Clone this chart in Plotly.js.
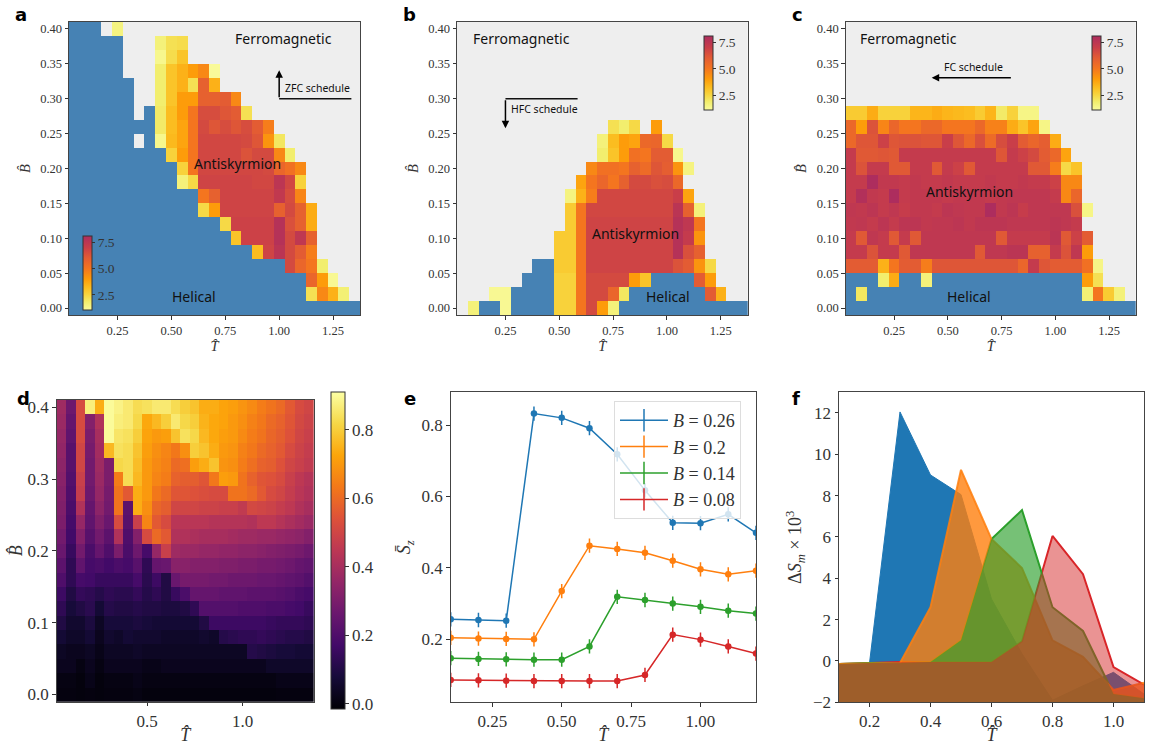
<!DOCTYPE html>
<html><head><meta charset="utf-8">
<script src="https://cdn.plot.ly/plotly-3.0.1.min.js"></script>
<style>html,body{margin:0;padding:0;background:#fff}#c{width:1153px;height:745px}</style>
</head><body><div id="c"></div>
<script>
const T=[.05,.10,.15,.20,.25,.30,.35,.40,.45,.50,.55,.60,.65,.70,.75,.80,.85,.90,.95,1.00,1.05,1.10,1.15,1.20,1.25,1.30,1.35];
const B=[.40,.38,.36,.34,.32,.30,.28,.26,.24,.22,.20,.18,.16,.14,.12,.10,.08,.06,.04,.02,0];
// 0 = ferromagnetic, -1 = helical, positive = antiskyrmion density
const zfc=[
[-1,-1,-1,0,1.5,0,0,0,0,0,0,0,0,0,0,0,0,0,0,0,0,0,0,0,0,0,0],
[-1,-1,-1,-1,-1,0,0,0,1.6,2.2,2.3,0,0,0,0,0,0,0,0,0,0,0,0,0,0,0,0],
[-1,-1,-1,-1,-1,0,0,0,1.3,2.3,3.0,0,0,0,0,0,0,0,0,0,0,0,0,0,0,0,0],
[-1,-1,-1,-1,-1,0,0,0,1.8,3.0,3.5,4.0,4.5,1.1,0,0,0,0,0,0,0,0,0,0,0,0,0],
[-1,-1,-1,-1,-1,-1,0,0,1.8,3.0,3.5,2.2,5.8,3.5,0,0,0,0,0,0,0,0,0,0,0,0,0],
[-1,-1,-1,-1,-1,-1,0,0,1.8,3.0,4.0,4.0,5.8,5.8,6.0,4.5,0,0,0,0,0,0,0,0,0,0,0],
[-1,-1,-1,-1,-1,-1,0,-1,1.9,3.2,4.0,5.0,6.5,6.5,6.2,6.0,2.2,0,0,0,0,0,0,0,0,0,0],
[-1,-1,-1,-1,-1,-1,-1,-1,1.9,3.2,3.8,5.0,6.6,6.2,6.5,6.2,6.5,6.0,4.8,0,0,0,0,0,0,0,0],
[-1,-1,-1,-1,-1,-1,0,-1,1.3,3.3,3.8,5.0,6.7,6.7,6.7,6.7,6.6,6.2,4.2,2.0,0,0,0,0,0,0,0],
[-1,-1,-1,-1,-1,-1,-1,-1,-1,2.6,4.0,5.0,6.7,6.7,6.7,6.7,6.3,6.6,6.6,4.5,1.8,0,0,0,0,0,0],
[-1,-1,-1,-1,-1,-1,-1,-1,-1,-1,2.6,5.0,6.7,6.7,6.7,6.7,6.7,6.7,6.6,5.6,5.2,4.5,0,0,0,0,0],
[-1,-1,-1,-1,-1,-1,-1,-1,-1,-1,1.6,2.4,6.8,6.8,6.8,6.8,6.8,6.7,6.7,7.5,6.7,2.6,0,0,0,0,0],
[-1,-1,-1,-1,-1,-1,-1,-1,-1,-1,-1,-1,5.0,5.8,6.8,6.8,6.8,6.8,6.8,7.3,6.5,4.6,0,0,0,0,0],
[-1,-1,-1,-1,-1,-1,-1,-1,-1,-1,-1,-1,2.4,4.0,6.8,6.8,6.8,6.8,6.8,5.8,6.6,5.8,3.6,0,0,0,0],
[-1,-1,-1,-1,-1,-1,-1,-1,-1,-1,-1,-1,-1,-1,2.4,6.9,6.9,6.9,6.9,7.8,6.4,5.8,3.6,0,0,0,0],
[-1,-1,-1,-1,-1,-1,-1,-1,-1,-1,-1,-1,-1,-1,-1,3.0,6.9,6.9,6.9,7.8,6.6,7.4,5.8,0,0,0,0],
[-1,-1,-1,-1,-1,-1,-1,-1,-1,-1,-1,-1,-1,-1,-1,-1,-1,3.2,6.8,7.6,6.6,6.0,4.8,0,0,0,0],
[-1,-1,-1,-1,-1,-1,-1,-1,-1,-1,-1,-1,-1,-1,-1,-1,-1,-1,-1,-1,6.6,5.6,5.0,1.8,0,0,0],
[-1,-1,-1,-1,-1,-1,-1,-1,-1,-1,-1,-1,-1,-1,-1,-1,-1,-1,-1,-1,-1,-1,5.6,4.0,1.2,0,0],
[-1,-1,-1,-1,-1,-1,-1,-1,-1,-1,-1,-1,-1,-1,-1,-1,-1,-1,-1,-1,-1,-1,2.2,4.5,3.5,1.7,0],
[-1,-1,-1,-1,-1,-1,-1,-1,-1,-1,-1,-1,-1,-1,-1,-1,-1,-1,-1,-1,-1,-1,-1,-1,-1,-1,-1]];
const hfc=[
[0,0,0,0,0,0,0,0,0,0,0,0,0,0,0,0,0,0,0,0,0,0,0,0,0,0,0],
[0,0,0,0,0,0,0,0,0,0,0,0,0,0,0,0,0,0,0,0,0,0,0,0,0,0,0],
[0,0,0,0,0,0,0,0,0,0,0,0,0,0,0,0,0,0,0,0,0,0,0,0,0,0,0],
[0,0,0,0,0,0,0,0,0,0,0,0,0,0,0,0,0,0,0,0,0,0,0,0,0,0,0],
[0,0,0,0,0,0,0,0,0,0,0,0,0,0,0,0,0,0,0,0,0,0,0,0,0,0,0],
[0,0,0,0,0,0,0,0,0,0,0,0,0,0,0,0,0,0,0,0,0,0,0,0,0,0,0],
[0,0,0,0,0,0,0,0,0,0,0,0,0,0,0,0,0,0,0,0,0,0,0,0,0,0,0],
[0,0,0,0,0,0,0,0,0,0,0,0,0,0,2.2,1.8,2.4,0,4.0,0,0,0,0,0,0,0,0],
[0,0,0,0,0,0,0,0,0,0,0,0,0,1.6,3.2,4.0,3.8,5.5,5.6,2.4,0,0,0,0,0,0,0],
[0,0,0,0,0,0,0,0,0,0,0,0,0,1.8,3.0,4.0,5.2,5.0,6.0,6.0,1.3,0,0,0,0,0,0],
[0,0,0,0,0,0,0,0,0,0,0,0,4.5,5.2,5.2,5.0,5.8,5.4,6.2,5.9,4.2,1.5,0,0,0,0,0],
[0,0,0,0,0,0,0,0,0,0,0,3.8,5.0,5.6,5.0,5.8,6.6,6.6,6.4,6.5,5.5,0,0,0,0,0,0],
[0,0,0,0,0,0,0,0,0,0,1.5,3.5,4.8,6.7,6.7,6.7,6.7,6.7,6.7,6.7,7.0,3.8,0,0,0,0,0],
[0,0,0,0,0,0,0,0,0,0,2.8,5.0,6.7,6.7,6.7,6.7,6.7,6.7,6.7,6.7,7.6,5.8,1.6,0,0,0,0],
[0,0,0,0,0,0,0,0,0,0,2.8,5.0,6.8,6.8,6.8,6.8,6.8,6.8,6.8,6.8,7.8,7.4,5.0,0,0,0,0],
[0,0,0,0,0,0,0,0,0,2.8,2.8,5.0,6.8,6.8,6.8,6.8,6.8,6.8,6.8,6.8,7.8,7.2,4.2,0,0,0,0],
[0,0,0,0,0,0,0,0,0,2.8,2.8,5.0,6.8,6.8,6.8,6.8,6.8,6.8,6.8,6.8,7.8,6.4,5.8,0,0,0,0],
[0,0,0,0,0,0,0,-1,-1,2.8,2.8,5.0,6.8,6.8,6.8,6.8,6.8,6.8,6.8,6.8,6.3,6.0,4.2,2.4,0,0,0],
[0,0,0,0,0,0,-1,-1,-1,2.6,2.6,5.0,6.6,6.6,6.6,6.6,4.0,3.0,-1,-1,-1,-1,6.0,4.0,0,0,0],
[0,0,0,1.2,1.2,-1,-1,-1,-1,2.6,2.6,5.0,6.6,6.6,5.6,2.0,-1,-1,-1,-1,-1,-1,-1,6.0,3.5,0,0],
[0,1.6,-1,-1,1.2,-1,-1,-1,-1,2.6,2.6,5.0,6.6,4.0,1.6,-1,-1,-1,-1,-1,-1,-1,-1,-1,-1,-1,-1]];
const fc=[
[0,0,0,0,0,0,0,0,0,0,0,0,0,0,0,0,0,0,0,0,0,0,0,0,0,0,0],
[0,0,0,0,0,0,0,0,0,0,0,0,0,0,0,0,0,0,0,0,0,0,0,0,0,0,0],
[0,0,0,0,0,0,0,0,0,0,0,0,0,0,0,0,0,0,0,0,0,0,0,0,0,0,0],
[0,0,0,0,0,0,0,0,0,0,0,0,0,0,0,0,0,0,0,0,0,0,0,0,0,0,0],
[0,0,0,0,0,0,0,0,0,0,0,0,0,0,0,0,0,0,0,0,0,0,0,0,0,0,0],
[0,0,0,0,0,0,0,0,0,0,0,0,0,0,0,0,0,0,0,0,0,0,0,0,0,0,0],
[2.8,2.8,3.6,2.6,2.6,2.6,3.4,3.4,3.6,3.4,3.3,3.2,2.8,3.4,1.9,2.6,1.4,1.4,0,0,0,0,0,0,0,0,0],
[5.5,4.0,6.3,4.6,5.6,5.0,5.0,5.5,5.5,5.0,5.0,5.0,5.5,4.7,4.7,3.6,3.0,3.8,1.4,0,0,0,0,0,0,0,0],
[5.5,6.2,6.2,6.9,6.2,6.3,6.3,6.2,6.2,7.0,6.2,5.5,6.4,5.4,6.5,7.0,6.0,5.6,5.9,3.6,0,0,0,0,0,0,0],
[7.2,6.1,6.1,6.2,6.1,7.2,7.2,7.2,7.2,7.2,7.2,7.2,7.2,7.2,6.2,7.2,6.9,6.6,6.0,5.5,3.8,0,0,0,0,0,0],
[7.2,6.3,7.2,7.2,6.1,6.1,7.2,7.2,6.1,7.2,6.9,6.1,7.2,7.2,7.2,7.2,7.2,6.1,6.1,4.8,2.4,3.0,0,0,0,0,0],
[7.2,7.2,8.1,7.3,7.3,7.2,7.3,7.2,7.2,7.3,7.2,7.2,7.2,7.3,7.2,7.2,7.3,7.2,7.2,6.9,4.5,4.5,0,0,0,0,0],
[7.2,7.9,7.3,7.2,8.1,7.2,7.3,7.3,7.3,7.2,7.3,7.3,7.3,7.2,7.3,7.4,7.4,7.4,7.4,7.2,4.5,5.6,0,0,0,0,0],
[7.4,7.3,7.5,7.2,7.4,7.1,7.3,7.3,7.2,7.5,7.4,7.3,7.3,8.2,7.3,7.5,7.1,7.4,7.4,7.4,7.4,6.4,1.4,0,0,0,0],
[7.3,7.4,7.2,7.5,7.2,7.5,7.5,7.3,7.4,7.4,7.5,7.3,7.5,7.5,7.5,7.4,7.4,7.4,7.4,7.5,7.4,7.2,0,0,0,0,0],
[7.2,6.1,7.4,7.2,6.1,7.2,6.1,7.4,7.4,7.4,7.4,7.4,7.4,7.4,6.1,7.2,7.2,7.2,7.2,7.6,6.1,6.9,6.0,0,0,0,0],
[7.2,7.2,6.3,7.2,7.2,6.1,7.4,7.4,7.4,7.4,7.4,7.4,6.1,7.4,7.4,7.6,7.6,5.8,5.8,7.2,6.3,7.4,4.0,0,0,0,0],
[6,6,6,3.5,5,6,6,4.8,6.2,6.2,6.2,6.2,6.2,6.2,6.2,6.2,5.6,7.2,6.2,6,6,6,5.2,1.4,0,0,0],
[-1,-1,-1,1.8,3.6,-1,-1,1.6,-1,-1,-1,-1,-1,-1,-1,-1,-1,-1,-1,-1,-1,-1,4.0,2.2,0,0,0],
[-1,2.0,-1,-1,-1,-1,-1,-1,-1,-1,-1,-1,-1,-1,-1,-1,-1,-1,-1,-1,-1,-1,1.7,5.0,2.8,1.6,0],
[-1,-1,-1,-1,-1,-1,-1,-1,-1,-1,-1,-1,-1,-1,-1,-1,-1,-1,-1,-1,-1,-1,-1,-1,-1,-1,-1]];
const sz=[
[.38,.27,.52,.87,.74,.90,.88,.86,.83,.84,.86,.86,.83,.80,.78,.74,.74,.72,.71,.69,.67,.64,.62,.60,.56,.52,.50],
[.37,.25,.52,.32,.42,.90,.87,.86,.82,.73,.76,.80,.86,.82,.80,.75,.73,.72,.70,.68,.65,.63,.60,.58,.55,.51,.49],
[.36,.24,.52,.30,.40,.90,.85,.84,.80,.72,.70,.71,.78,.84,.82,.76,.73,.71,.70,.67,.64,.62,.59,.57,.54,.50,.48],
[.35,.22,.50,.29,.39,.76,.84,.83,.78,.71,.68,.66,.63,.68,.80,.78,.74,.70,.69,.65,.63,.60,.58,.56,.52,.49,.47],
[.34,.22,.50,.28,.38,.30,.82,.83,.77,.70,.67,.65,.60,.61,.71,.74,.78,.69,.68,.64,.61,.58,.57,.54,.50,.48,.46],
[.33,.21,.48,.28,.37,.30,.64,.83,.76,.70,.66,.64,.58,.57,.57,.55,.63,.71,.70,.62,.58,.55,.54,.52,.48,.45,.43],
[.32,.20,.47,.27,.36,.29,.62,.56,.74,.70,.63,.60,.55,.55,.54,.53,.52,.52,.62,.62,.60,.56,.52,.50,.47,.44,.42],
[.31,.19,.42,.25,.34,.28,.62,.23,.74,.68,.59,.57,.50,.50,.50,.49,.49,.48,.48,.46,.51,.50,.49,.47,.45,.42,.40],
[.30,.18,.36,.24,.31,.26,.52,.22,.48,.66,.56,.52,.44,.44,.44,.44,.43,.43,.43,.43,.42,.45,.45,.43,.41,.39,.37],
[.28,.17,.32,.22,.28,.23,.42,.20,.32,.52,.60,.56,.42,.42,.41,.40,.40,.40,.39,.38,.38,.37,.37,.36,.35,.34,.32],
[.26,.15,.28,.19,.25,.20,.30,.19,.27,.18,.36,.48,.38,.37,.37,.36,.36,.35,.35,.34,.34,.33,.32,.31,.30,.29,.27],
[.23,.13,.24,.18,.19,.17,.19,.18,.22,.13,.25,.26,.33,.33,.32,.32,.32,.31,.31,.30,.30,.29,.29,.28,.27,.25,.24],
[.20,.13,.18,.17,.15,.15,.15,.15,.18,.12,.16,.10,.26,.29,.29,.29,.28,.28,.27,.27,.27,.26,.26,.25,.24,.23,.21],
[.16,.10,.14,.13,.11,.13,.12,.12,.14,.11,.13,.10,.15,.19,.25,.25,.25,.24,.24,.24,.23,.23,.23,.22,.21,.19,.18],
[.13,.08,.10,.12,.07,.11,.10,.10,.11,.10,.10,.09,.09,.10,.13,.21,.21,.21,.21,.20,.20,.20,.19,.19,.18,.17,.15],
[.10,.06,.06,.09,.04,.08,.08,.08,.09,.08,.07,.07,.07,.07,.07,.10,.16,.16,.16,.16,.16,.16,.15,.14,.14,.14,.13],
[.07,.05,.05,.07,.03,.06,.05,.07,.06,.06,.06,.05,.05,.05,.05,.06,.05,.11,.12,.13,.13,.14,.13,.12,.11,.11,.10],
[.04,.03,.03,.04,.02,.04,.04,.04,.05,.04,.04,.04,.04,.04,.04,.04,.04,.04,.04,.04,.11,.10,.09,.08,.08,.07,.07],
[.03,.03,.01,.03,.01,.03,.03,.03,.03,.02,.02,.03,.03,.03,.03,.03,.03,.03,.03,.03,.03,.03,.05,.05,.05,.05,.05],
[.01,.01,.00,.02,.00,.01,.01,.01,.02,.01,.01,.01,.01,.01,.01,.01,.01,.01,.01,.01,.01,.01,.01,.02,.02,.02,.02],
[.005,.005,0,.005,0,.005,.005,.005,.01,0,0,0,0,0,0,0,0,0,0,0,0,0,0,.005,.005,.005,.005]];
const eT=[.1,.2,.3,.4,.5,.6,.7,.8,.9,1.0,1.1,1.2];
const s26=[.256,.254,.252,.832,.820,.791,.718,.617,.526,.525,.550,.498];
const s20=[.204,.202,.201,.200,.335,.462,.453,.442,.420,.396,.382,.392];
const s14=[.147,.145,.144,.143,.143,.180,.319,.310,.300,.291,.280,.272];
const s08=[.086,.085,.084,.083,.083,.083,.083,.100,.213,.199,.180,.160];
const fT=[.1,.2,.3,.4,.5,.6,.7,.8,.9,1.0,1.1];
const d1=[-.15,-.1,12.05,9.0,8.05,3.0,.35,-1.9,-1.2,-.55,-1.6];
const d2=[-.15,-.12,-.1,2.6,9.25,5.9,4.5,1.0,.2,-1.4,-1.05];
const d3=[-.15,-.1,-.1,-.05,1.0,5.9,7.3,2.6,1.45,-1.6,-1.8];
const d4=[-.15,-.1,-.05,-.05,-.05,-.05,.95,6.05,4.2,-.3,-1.15];
const floorVal=-2;

const W=1153,H=745;
const serif='"Liberation Serif","DejaVu Serif",serif', sans='"Noto Sans","DejaVu Sans",sans-serif';
const ink='#333333';
const densCS=[[0,'#f9fb9c'],[.106,'#f2ee6e'],[.206,'#f7d53f'],[.305,'#fbbd20'],[.418,'#fd9c0a'],[.56,'#f4751f'],[.702,'#e35c33'],[.844,'#c93e49'],[1,'#ad2d5e']];
const inferno=[[0,'#000004'],[.1,'#160b39'],[.2,'#420a68'],[.3,'#6a176e'],[.4,'#932667'],[.5,'#bc3754'],[.6,'#dd513a'],[.7,'#f37819'],[.8,'#fca50a'],[.9,'#f6d746'],[1,'#fcffa4']];
const phaseCS=[[0,'#4682b4'],[1,'#eeeeee']];
const panels=[
 {m:zfc,xa:'x',ya:'y',cb:{l:83.3,t:236,h:74}},
 {m:hfc,xa:'x2',ya:'y2',cb:{l:704,t:36.3,h:74}},
 {m:fc,xa:'x3',ya:'y3',cb:{l:1092,t:36.3,h:74}}];
const traces=[];
panels.forEach(p=>{
 traces.push({type:'heatmap',x:T,y:B,z:p.m.map(r=>r.map(v=>v<=0?v:null)),xaxis:p.xa,yaxis:p.ya,zmin:-1,zmax:0,colorscale:phaseCS,showscale:false,hoverinfo:'skip'});
 traces.push({type:'heatmap',x:T,y:B,z:p.m.map(r=>r.map(v=>v>0?v:null)),xaxis:p.xa,yaxis:p.ya,zmin:1.05,zmax:8.1,colorscale:densCS,hoverinfo:'skip',
  colorbar:{x:p.cb.l/W,xanchor:'left',y:1-p.cb.t/H,yanchor:'top',thicknessmode:'pixels',thickness:9,lenmode:'pixels',len:p.cb.h,xpad:0,ypad:0,
   outlinewidth:1,outlinecolor:'#333',borderwidth:0,bgcolor:'rgba(0,0,0,0)',tickvals:[2.5,5,7.5],ticktext:['2.5','5.0','7.5'],ticks:'outside',ticklen:3,tickwidth:1,tickcolor:ink,
   tickfont:{family:serif,size:13.5,color:ink}}});
});
traces.push({type:'heatmap',x:T,y:B,z:sz,xaxis:'x4',yaxis:'y4',zmin:-.015,zmax:.91,colorscale:inferno,hoverinfo:'skip',
 colorbar:{x:330.7/W,xanchor:'left',y:1-392/H,yanchor:'top',thicknessmode:'pixels',thickness:13.5,lenmode:'pixels',len:317,xpad:0,ypad:0,outlinewidth:1,outlinecolor:'#333',borderwidth:0,
  tickvals:[0,.2,.4,.6,.8],ticktext:['0.0','0.2','0.4','0.6','0.8'],ticks:'outside',ticklen:3.5,tickwidth:1,tickcolor:ink,tickfont:{family:serif,size:17,color:ink}}});
const eSeries=[[s26,'#1f77b4','0.26'],[s20,'#ff7f0e','0.2'],[s14,'#2ca02c','0.14'],[s08,'#d62728','0.08']];
eSeries.forEach(([y,c])=>traces.push({type:'scatter',mode:'lines+markers',x:eT,y:y,xaxis:'x5',yaxis:'y5',showlegend:false,hoverinfo:'skip',
 line:{color:c,width:1.5},marker:{color:c,size:6.5},error_y:{type:'constant',value:.02,color:c,thickness:1.5,width:0}}));
eSeries.forEach(([y,c,n])=>traces.push({type:'scatter',mode:'lines+markers',x:[null],y:[null],xaxis:'x5',yaxis:'y5',showlegend:true,
 name:'<i>B</i> = '+n,line:{color:c,width:1.5},marker:{symbol:'line-ns-open',color:c,size:16,line:{color:c,width:1.5}}}));
// panel f layers: each area is filled down to the axis floor
const f6={xaxis:'x6',yaxis:'y6',showlegend:false,hoverinfo:'skip',type:'scatter',mode:'lines',x:fT};
const noLine={width:0,color:'rgba(0,0,0,0)'};
const floorTrace=()=>Object.assign({},f6,{y:fT.map(()=>floorVal),line:noLine});
traces.push(floorTrace(),Object.assign({},f6,{y:d1,fill:'tonexty',fillcolor:'rgb(31,119,180)',line:{color:'rgb(31,119,180)',width:1}}));
traces.push(Object.assign({},f6,{y:d4,line:{color:'rgb(218,38,42)',width:2}}));
traces.push(Object.assign({},f6,{y:d3,line:{color:'rgb(44,160,44)',width:2}}));
traces.push(floorTrace(),Object.assign({},f6,{y:d2,fill:'tonexty',fillcolor:'rgba(255,127,14,.8)',line:{color:'rgba(255,127,14,.85)',width:2}}));
traces.push(floorTrace(),Object.assign({},f6,{y:d3,fill:'tonexty',fillcolor:'rgba(44,160,44,.65)',line:noLine}));
traces.push(floorTrace(),Object.assign({},f6,{y:d4,fill:'tonexty',fillcolor:'rgba(214,39,40,.5)',line:noLine}));
function axis(pxL,pxR,range,tickvals,ticktext,size,title,standoff,anchor){
 return {domain:[pxL/W,pxR/W],range:range,tickmode:'array',tickvals:tickvals,ticktext:ticktext,ticks:'outside',ticklen:3.5,tickwidth:1,tickcolor:ink,
  showgrid:false,zeroline:false,showline:true,linewidth:1,linecolor:'#444',mirror:true,anchor:anchor,
  tickfont:{family:serif,size:size,color:ink},title:{text:title,standoff:standoff,font:{family:serif,size:size<14?14.5:18,color:ink}}};
}
function yaxis(pxT,pxB,range,tickvals,ticktext,size,title,standoff,anchor){
 const a=axis(0,1,range,tickvals,ticktext,size,title,standoff,anchor);
 a.domain=[1-pxB/H,1-pxT/H];return a;
}
const Tt='<i>T&#770;</i>',Bt='<i>B&#770;</i>';
const xt=[.25,.5,.75,1,1.25],xl=['0.25','0.50','0.75','1.00','1.25'];
const yt=[0,.05,.1,.15,.2,.25,.3,.35,.4],yl=['0.00','0.05','0.10','0.15','0.20','0.25','0.30','0.35','0.40'];
const xR=[.025,1.375],yR=[-.01,.41];
const layout={width:W,height:H,margin:{l:0,r:0,t:0,b:0},paper_bgcolor:'#fff',plot_bgcolor:'#fff',
 xaxis:axis(69,360,xR,xt,xl,12.5,Tt,4,'y'),yaxis:yaxis(22,315,yR,yt,yl,12.5,Bt,6,'x'),
 xaxis2:axis(457,747.7,xR,xt,xl,12.5,Tt,4,'y2'),yaxis2:yaxis(22,315,yR,yt,yl,12.5,Bt,6,'x2'),
 xaxis3:axis(845.7,1136,xR,xt,xl,12.5,Tt,4,'y3'),yaxis3:yaxis(22,315,yR,yt,yl,12.5,Bt,6,'x3'),
 xaxis4:axis(56.7,314,xR,[.5,1],['0.5','1.0'],17,Tt,10,'y4'),yaxis4:yaxis(400,701.7,yR,[0,.1,.2,.3,.4],['0.0','0.1','0.2','0.3','0.4'],17,Bt,0,'x4'),
 xaxis5:axis(450.7,756,[.1,1.2],[.25,.5,.75,1],['0.25','0.50','0.75','1.00'],17,Tt,10,'y5'),yaxis5:yaxis(392.3,702.3,[.0235,.8916],[.2,.4,.6,.8],['0.2','0.4','0.6','0.8'],17,'<i>S&#772;<sub>z</sub></i>',6,'x5'),
 xaxis6:axis(839,1144,[.1,1.1],[.2,.4,.6,.8,1],['0.2','0.4','0.6','0.8','1.0'],17,Tt,10,'y6'),yaxis6:yaxis(392.3,702.3,[-2,13],[-2,0,2,4,6,8,10,12],['\u22122','0','2','4','6','8','10','12'],17,'&#916;<i>S<sub>m</sub></i> × 10<sup>3</sup>',6,'x6'),
 showlegend:true,
 legend:{x:614/W,xanchor:'left',y:1-401/H,yanchor:'top',traceorder:'normal',bgcolor:'rgba(255,255,255,.8)',bordercolor:'#ddd',borderwidth:1,font:{family:serif,size:18,color:ink},itemwidth:48,entrywidth:72,entrywidthmode:'pixels',itemclick:false,itemdoubleclick:false},
 annotations:[],shapes:[]};
function label(xr,yr,x,y,text,size){layout.annotations.push({xref:xr,yref:yr,x:x,y:y,text:text,showarrow:false,xanchor:'center',yanchor:'middle',font:{family:sans,size:size,color:'#111'}});}
function arrow(xr,yr,x0,y0,x1,y1){layout.annotations.push({xref:xr,yref:yr,axref:xr,ayref:yr,x:x1,y:y1,ax:x0,ay:y0,text:'',showarrow:true,arrowhead:2,arrowsize:1,arrowwidth:1.5,arrowcolor:'#000',standoff:0,startstandoff:0});}
function seg(xr,yr,x0,y0,x1,y1){layout.shapes.push({type:'line',xref:xr,yref:yr,x0:x0,y0:y0,x1:x1,y1:y1,line:{color:'#111',width:1.5}});}
label('x','y',1.02,.386,'Ferromagnetic',14);label('x','y',.805,.207,'Antiskyrmion',14);label('x','y',.606,.017,'Helical',14);label('x','y',1.177,.316,'ZFC schedule',10.5);
arrow('x','y',1.0,.30,1.0,.341);seg('x','y',1.0,.30,1.335,.30);
label('x2','y2',.3225,.386,'Ferromagnetic',14);label('x2','y2',.853,.107,'Antiskyrmion',14);label('x2','y2',1.005,.017,'Helical',14);label('x2','y2',.43,.285,'HFC schedule',10.5);
arrow('x2','y2',.25,.30,.25,.2576);seg('x2','y2',.25,.30,.585,.30);
label('x3','y3',.318,.386,'Ferromagnetic',14);label('x3','y3',.60,.167,'Antiskyrmion',14);label('x3','y3',.60,.017,'Helical',14);label('x3','y3',.619,.345,'FC schedule',10.5);
arrow('x3','y3',.80,.33,.425,.33);
[['a',21,15],['b',409,15],['c',797,15],['d',23,398],['e',410,398],['f',796,398]].forEach(([t,x,y])=>layout.annotations.push({xref:'paper',yref:'paper',x:x/W,y:1-y/H,xanchor:'center',yanchor:'middle',text:'<b>'+t+'</b>',showarrow:false,font:{family:'"DejaVu Sans",sans-serif',size:18,color:'#000'}}));
Plotly.newPlot('c',traces,layout,{displayModeBar:false});
</script></body></html>
